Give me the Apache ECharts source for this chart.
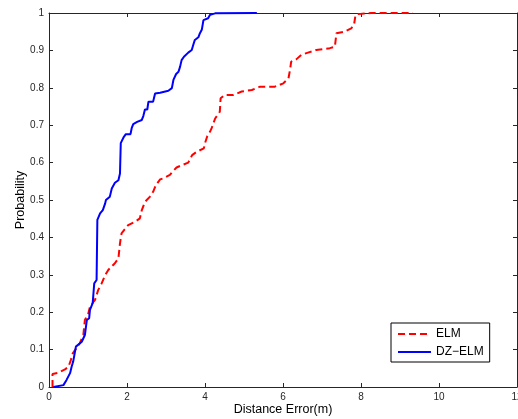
<!DOCTYPE html>
<html>
<head>
<meta charset="utf-8">
<script src="https://cdn.jsdelivr.net/npm/echarts@6/dist/echarts.min.js"></script>
<style>
html,body{margin:0;padding:0;background:#fff;}
#chart{width:518px;height:419px;}
</style>
</head>
<body>
<div id="chart"></div>
<script>
// ---- data ----
const seriesNames = ['ELM', 'DZ\u2212ELM'];
const elmX = [0.09,0.09,0.24,0.41,0.50,0.56,0.61,0.79,0.88,0.92,1.01,1.05,1.18,1.26,1.35,1.44,1.52,1.69,1.78,1.82,1.86,2.03,2.21,2.33,2.38,2.46,2.59,2.67,2.74,2.85,2.93,3.10,3.17,3.27,3.36,3.57,3.67,3.79,3.97,4.00,4.06,4.13,4.17,4.26,4.38,4.40,4.51,4.73,4.94,5.20,5.41,5.79,6.01,6.14,6.18,6.21,6.34,6.47,6.64,6.85,7.20,7.33,7.37,7.58,7.75,7.82,7.86,7.92,8.26,9.33];
const elmY = [0,0.035,0.038,0.047,0.054,0.072,0.09,0.117,0.139,0.179,0.197,0.215,0.233,0.259,0.277,0.299,0.313,0.331,0.344,0.384,0.411,0.433,0.442,0.451,0.473,0.495,0.509,0.522,0.54,0.555,0.558,0.567,0.576,0.587,0.591,0.600,0.620,0.629,0.638,0.652,0.671,0.683,0.692,0.718,0.736,0.772,0.781,0.781,0.790,0.794,0.803,0.803,0.812,0.825,0.848,0.870,0.876,0.888,0.894,0.901,0.906,0.910,0.946,0.950,0.959,0.968,0.995,0.997,1.0,1.0];
const dzX = [0.11,0.37,0.45,0.54,0.58,0.62,0.69,0.84,0.92,0.97,1.03,1.05,1.12,1.16,1.22,1.24,1.31,1.38,1.44,1.46,1.56,1.61,1.69,1.78,1.82,1.84,1.92,1.97,2.09,2.12,2.16,2.26,2.38,2.42,2.46,2.52,2.55,2.67,2.72,2.85,3.06,3.15,3.19,3.26,3.32,3.36,3.40,3.46,3.57,3.66,3.70,3.74,3.83,3.87,3.92,3.96,4.00,4.08,4.13,4.26,5.33];
const dzY = [0,0.005,0.019,0.037,0.054,0.068,0.108,0.121,0.139,0.179,0.184,0.206,0.224,0.277,0.286,0.447,0.464,0.473,0.491,0.50,0.509,0.531,0.546,0.553,0.571,0.652,0.669,0.676,0.676,0.692,0.703,0.709,0.714,0.725,0.742,0.742,0.763,0.763,0.785,0.787,0.792,0.799,0.821,0.837,0.843,0.856,0.874,0.883,0.894,0.901,0.915,0.928,0.935,0.946,0.956,0.981,0.986,0.986,0.995,0.999,1.0];
const xTickLabels = ['0','2','4','6','8','10','12'];
const yTickLabels = ['0','0.1','0.2','0.3','0.4','0.5','0.6','0.7','0.8','0.9','1'];
const xAxisTitle = 'Distance Error(m)';
const yAxisTitle = 'Probability';

const zip = (xs, ys) => xs.map((x, i) => [x, ys[i]]);
const FONT = '"Liberation Sans", Arial, Helvetica, sans-serif';
const AX = '#262626';

const chart = echarts.init(document.getElementById('chart'), null, {renderer: 'canvas'});
const xLab = v => xTickLabels[Math.round(v / 2)] ?? '';
const yLab = v => yTickLabels[Math.round(v * 10)] ?? '';
chart.setOption({
  animation: false,
  backgroundColor: '#fff',
  grid: {left: 49, right: 1, top: 13, bottom: 32, containLabel: false, outerBoundsMode: 'none'},
  xAxis: [{
    type: 'value', min: 0, max: 12, interval: 2, position: 'bottom',
    name: xAxisTitle, nameLocation: 'middle', nameGap: 16, nameMoveOverlap: false,
    nameTextStyle: {fontFamily: FONT, fontSize: 12.5, color: '#000'},
    axisLine: {show: true, onZero: false, lineStyle: {color: AX, width: 1}},
    axisTick: {show: true, inside: true, length: 4, lineStyle: {color: AX}},
    axisLabel: {show: true, margin: 5, fontFamily: FONT, fontSize: 10, color: AX, formatter: xLab, alignMaxLabel: 'center', alignMinLabel: 'center', hideOverlap: false},
    splitLine: {show: false}
  }, {
    type: 'value', min: 0, max: 12, interval: 2, position: 'top',
    axisLine: {show: true, onZero: false, lineStyle: {color: AX, width: 1}},
    axisTick: {show: true, inside: true, length: 4, lineStyle: {color: AX}},
    axisLabel: {show: false}, splitLine: {show: false}
  }],
  yAxis: [{
    type: 'value', min: 0, max: 1, interval: 0.1, position: 'left',
    name: yAxisTitle, nameLocation: 'middle', nameGap: 22, nameMoveOverlap: false,
    nameTextStyle: {fontFamily: FONT, fontSize: 12.5, color: '#000'},
    axisLine: {show: true, onZero: false, lineStyle: {color: AX, width: 1}},
    axisTick: {show: true, inside: true, length: 4, lineStyle: {color: AX}},
    axisLabel: {show: true, margin: 5, fontFamily: FONT, fontSize: 10, color: AX, formatter: yLab},
    splitLine: {show: false}
  }, {
    type: 'value', min: 0, max: 1, interval: 0.1, position: 'right',
    axisLine: {show: true, onZero: false, lineStyle: {color: AX, width: 1}},
    axisTick: {show: true, inside: true, length: 4, lineStyle: {color: AX}},
    axisLabel: {show: false}, splitLine: {show: false}
  }],
  legend: {
    orient: 'vertical', left: 391, top: 323,
    padding: [5, 6, 4, 6], itemWidth: 33, itemHeight: 12, itemGap: 6,
    backgroundColor: '#fff', borderColor: '#000', borderWidth: 1, borderRadius: 0,
    itemStyle: {opacity: 0},
    textStyle: {fontFamily: FONT, fontSize: 12, color: '#000'},
    data: seriesNames
  },
  series: [{
    name: seriesNames[0], type: 'line', xAxisIndex: 0, yAxisIndex: 0,
    data: zip(elmX, elmY), symbol: 'none', smooth: false,
    lineStyle: {color: '#ff0000', width: 2, type: [7, 4]},
    itemStyle: {color: '#ff0000'}, z: 2
  }, {
    name: seriesNames[1], type: 'line', xAxisIndex: 0, yAxisIndex: 0,
    data: zip(dzX, dzY), symbol: 'none', smooth: false,
    lineStyle: {color: '#0000ff', width: 2, type: 'solid'},
    itemStyle: {color: '#0000ff'}, z: 3
  }]
});
</script>
</body>
</html>
